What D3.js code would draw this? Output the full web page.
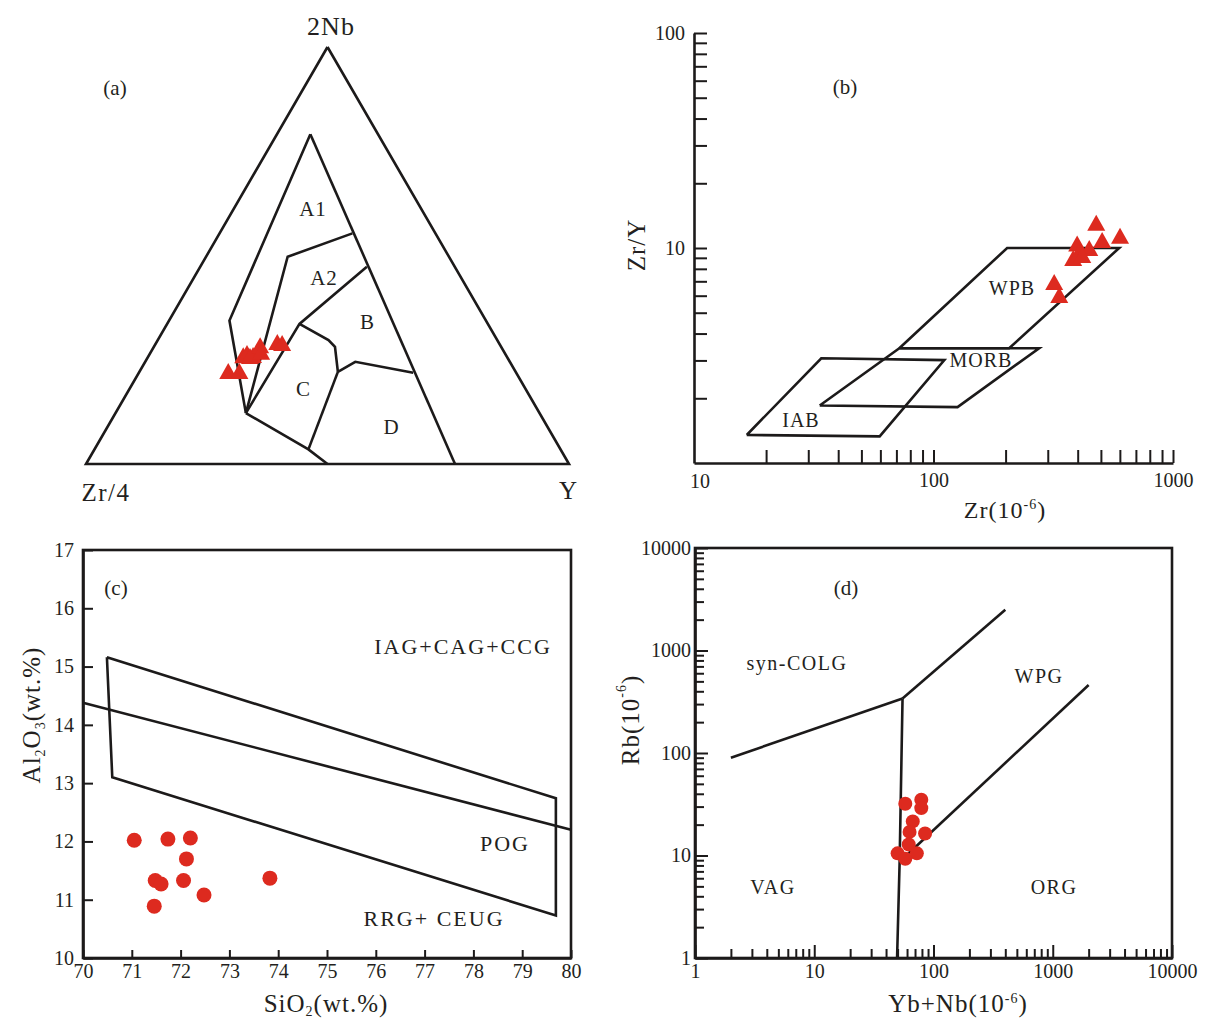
<!DOCTYPE html>
<html><head><meta charset="utf-8">
<script src="https://cdn.jsdelivr.net/npm/d3@7"></script>
<style>
body{margin:0;background:#fff}
svg text{font-family:"Liberation Serif","Times New Roman",serif;fill:#231f20}
</style>
</head><body>
<svg id="chart" width="1208" height="1021"></svg>
<script>
// ---------------- DATA ----------------
// (a) Ternary 2Nb - Zr/4 - Y ; vertices given as [2Nb, Zr/4, Y] fractions
const ternaryCorners = ["2Nb", "Zr/4", "Y"];
const fieldOuterLeft  = [[0.791,0.140,0.069],[0.344,0.531,0.125],[0.122,0.608,0.270]];
const fieldOuterRight = [[0.791,0.140,0.069],[0,0.236,0.764]];
const fieldA1A2       = [[0.553,0.172,0.275],[0.497,0.334,0.169],[0.122,0.608,0.270]];
const fieldA2B        = [[0.473,0.182,0.345],[0.336,0.390,0.274],[0.122,0.608,0.270]];
const fieldBC         = [[0.336,0.390,0.274],[0.297,0.349,0.353],[0.281,0.344,0.375],[0.221,0.368,0.411]];
const fieldBD         = [[0.221,0.368,0.411],[0.245,0.320,0.435],[0.219,0.213,0.568]];
const fieldCD         = [[0.221,0.368,0.411],[0.035,0.522,0.443]];
const fieldBase       = [[0.122,0.608,0.270],[0.035,0.522,0.443],[0,0.5,0.5]];
const samplesA_Nb = [0.223,0.223,0.261,0.266,0.261,0.259,0.285,0.269,0.293,0.290];
const samplesA_Zr = [0.594,0.571,0.544,0.533,0.523,0.531,0.497,0.503,0.458,0.449];
const samplesA_Y  = [0.183,0.206,0.195,0.200,0.215,0.210,0.218,0.228,0.250,0.261];

// (b) Zr/Y vs Zr
const fieldIAB  = [[16.6,1.35],[59.6,1.33],[111,3.01],[34,3.07]];
const fieldMORB = [[33.5,1.85],[126,1.82],[276,3.42],[72,3.42]];
const fieldWPB  = [[72,3.42],[207,3.42],[596,10],[203,10]];
const samplesB_Zr  = [478,601,506,398,447,383,405,418,319,335];
const samplesB_ZrY = [13.1,11.4,10.9,10.5,10.0,8.98,9.58,9.28,6.95,6.04];
const bXLabels = [10,100,1000];
const bYLabels = [10,100];

// (c) Al2O3 vs SiO2
const fieldPOG   = [[70.49,15.16],[70.6,13.10],[79.69,10.73],[79.69,12.74],[70.49,15.16]];
const lineIAGPOG = [[70,14.38],[80,12.2]];
const samplesC_SiO2  = [71.05,71.74,72.2,72.12,71.48,71.6,72.06,72.48,73.83,71.46];
const samplesC_Al2O3 = [12.02,12.04,12.06,11.7,11.33,11.27,11.33,11.08,11.37,10.89];
const cXTicks = [70,71,72,73,74,75,76,77,78,79,80];
const cYTicks = [10,11,12,13,14,15,16,17];

// (d) Rb vs Yb+Nb
const lineSynColVag = [[2,90],[55,340]];
const lineUpper     = [[55,340],[400,2500]];
const lineVagOrg    = [[55,340],[52,8.7],[49.5,1]];
const lineOrgWpg    = [[52,8.7],[2000,460]];
const samplesD_YbNb = [58,79,79,67,63,85,62,50,72.5,58];
const samplesD_Rb   = [32,35,29,21.5,17,16.4,12.8,10.5,10.5,9.3];
const dLabels = [1,10,100,1000,10000];

// ---------------- DRAW ----------------
const svg = d3.select("#chart");
const INK = "#1c1a1a", RED = "#dd2a1f", LW = 2.6;
const line = d3.line();
function polyline(g, pts){ g.append("path").attr("d", line(pts)).attr("fill","none")
  .attr("stroke",INK).attr("stroke-width",LW).attr("stroke-linejoin","miter"); }
function label(x,y,t,size,opts={}){
  const e = svg.append("text").attr("x",x).attr("y",y).attr("text-anchor",opts.anchor||"middle")
   .attr("dominant-baseline","central").attr("font-size",size).text(t);
  if(opts.ls) e.attr("letter-spacing",opts.ls);
  return e;
}
const triPath = "M0,-8L9,8L-9,8Z";

// ===== (a) =====
const tx = d3.scaleLinear().domain([0,1]).range([86,569]);
const ty = d3.scaleLinear().domain([0,1]).range([464,47]);
const proj = ([a,b,c]) => { const s=a+b+c; a/=s; c/=s; return [tx(c + a/2), ty(a)]; };
const gA = svg.append("g");
polyline(gA, [[1,0,0],[0,1,0],[0,0,1],[1,0,0]].map(proj));
[fieldOuterLeft, fieldOuterRight, fieldA1A2, fieldA2B, fieldBC, fieldBD, fieldCD, fieldBase]
  .forEach(f => polyline(gA, f.map(proj)));
gA.selectAll("path.s").data(d3.range(samplesA_Nb.length)).enter().append("path")
  .attr("class","s").attr("d",triPath).attr("fill",RED)
  .attr("transform", i => { const p = proj([samplesA_Nb[i],samplesA_Zr[i],samplesA_Y[i]]); return `translate(${p[0]},${p[1]})`; });
label(331,26,ternaryCorners[0],26,{ls:1});
label(106,492,ternaryCorners[1],25,{ls:1.5});
label(568,490,ternaryCorners[2],25);
label(115,88,"(a)",21);
label(313,209,"A1",21,{ls:1});
label(324,278,"A2",21,{ls:1});
label(367,322,"B",21);
label(303,389,"C",21);
label(391,427,"D",21);

// ===== (b) =====
const xb = d3.scaleLog().domain([10,1000]).range([694,1173]);
const yb = d3.scaleLog().domain([1,100]).range([463,33]);
const gB = svg.append("g");
const axYb = gB.append("g").attr("transform","translate(694,0)")
  .call(d3.axisLeft(yb).tickValues(yb.ticks().filter(v=>v>1)).tickSizeInner(-13).tickSizeOuter(0).tickPadding(9)
    .tickFormat(d => bYLabels.includes(d) ? String(d) : ""));
const axXb = gB.append("g").attr("transform","translate(0,463)")
  .call(d3.axisBottom(xb).tickValues(xb.ticks().filter(v=>v>10)).tickSizeInner(-13).tickSizeOuter(0).tickPadding(10)
    .tickFormat(d => bXLabels.includes(d) ? String(d) : ""));
axXb.append("text").attr("x",xb(10)+6).attr("y",11).attr("dy","0.71em").attr("text-anchor","middle").attr("fill","#231f20").text("10");
[fieldIAB, fieldMORB, fieldWPB].forEach(f => polyline(gB, f.concat([f[0]]).map(d=>[xb(d[0]),yb(d[1])])));
gB.selectAll("path.s").data(d3.range(samplesB_Zr.length)).enter().append("path")
  .attr("class","s").attr("d",triPath).attr("fill",RED)
  .attr("transform", i => `translate(${xb(samplesB_Zr[i])},${yb(samplesB_ZrY[i])})`);
label(845,87,"(b)",21);
label(1012,288,"WPB",20,{ls:1});
label(981,360,"MORB",20,{ls:1});
label(801,420,"IAB",20,{ls:1});
// titles
svg.append("text").attr("transform","translate(636,245) rotate(-90)").attr("text-anchor","middle")
  .attr("dominant-baseline","central").attr("font-size",25).attr("letter-spacing",1).text("Zr/Y");
{ const t = svg.append("text").attr("x",1005).attr("y",518).attr("text-anchor","middle").attr("font-size",24).attr("letter-spacing",1);
  t.append("tspan").text("Zr(10"); t.append("tspan").attr("dy",-9).attr("font-size",14).text("-6");
  t.append("tspan").attr("dy",9).text(")"); }

// ===== (c) =====
const xc = d3.scaleLinear().domain([70,80]).range([83,571]);
const yc = d3.scaleLinear().domain([10,17]).range([958,550]);
const gC = svg.append("g");
gC.append("g").attr("transform","translate(0,958)")
  .call(d3.axisBottom(xc).tickValues(cXTicks).tickSizeInner(-8).tickSizeOuter(0).tickPadding(6).tickFormat(d3.format("d")));
gC.append("g").attr("transform","translate(83,0)")
  .call(d3.axisLeft(yc).tickValues(cYTicks).tickSizeInner(-10).tickSizeOuter(0).tickPadding(9).tickFormat(d3.format("d")));
gC.append("rect").attr("x",xc(70)).attr("y",yc(17)).attr("width",xc(80)-xc(70)).attr("height",yc(10)-yc(17))
  .attr("fill","none").attr("stroke",INK).attr("stroke-width",LW);
polyline(gC, fieldPOG.map(d=>[xc(d[0]),yc(d[1])]));
polyline(gC, lineIAGPOG.map(d=>[xc(d[0]),yc(d[1])]));
gC.selectAll("circle").data(d3.range(samplesC_SiO2.length)).enter().append("circle")
  .attr("cx", i=>xc(samplesC_SiO2[i])).attr("cy", i=>yc(samplesC_Al2O3[i])).attr("r",7.5).attr("fill",RED);
label(116,588,"(c)",21);
label(463,646,"IAG+CAG+CCG",22,{ls:2});
label(505,843,"POG",22,{ls:2});
label(434,918,"RRG+ CEUG",22,{ls:2});
{ const t = svg.append("text").attr("transform","translate(40,715) rotate(-90)").attr("text-anchor","middle")
   .attr("font-size",25).attr("letter-spacing",1);
  t.append("tspan").text("Al"); t.append("tspan").attr("dy",5).attr("font-size",14).text("2");
  t.append("tspan").attr("dy",-5).text("O"); t.append("tspan").attr("dy",5).attr("font-size",14).text("3");
  t.append("tspan").attr("dy",-5).text("(wt.%)"); }
{ const t = svg.append("text").attr("x",326).attr("y",1012).attr("text-anchor","middle").attr("font-size",25).attr("letter-spacing",1);
  t.append("tspan").text("SiO"); t.append("tspan").attr("dy",4).attr("font-size",14).text("2");
  t.append("tspan").attr("dy",-4).text("(wt.%)"); }

// ===== (d) =====
const xd = d3.scaleLog().domain([1,10000]).range([695,1172]);
const yd = d3.scaleLog().domain([1,10000]).range([958,548]);
const gD = svg.append("g");
const fmtD = d => dLabels.includes(d) ? String(d) : "";
const axXd = gD.append("g").attr("transform","translate(0,958)")
  .call(d3.axisBottom(xd).tickValues(xd.ticks()).tickSizeInner(-9).tickSizeOuter(0).tickPadding(6).tickFormat(fmtD));
axXd.selectAll(".tick line").attr("y2", d => dLabels.includes(d) ? -13 : -9);
const axYd = gD.append("g").attr("transform","translate(695,0)")
  .call(d3.axisLeft(yd).tickValues(yd.ticks()).tickSizeInner(-9).tickSizeOuter(0).tickPadding(4).tickFormat(fmtD));
axYd.selectAll(".tick line").attr("x2", d => dLabels.includes(d) ? 13 : 9);
gD.append("rect").attr("x",xd(1)).attr("y",yd(10000)).attr("width",xd(10000)-xd(1)).attr("height",yd(1)-yd(10000))
  .attr("fill","none").attr("stroke",INK).attr("stroke-width",LW);
[lineSynColVag, lineUpper, lineVagOrg, lineOrgWpg].forEach(f => polyline(gD, f.map(d=>[xd(d[0]),yd(d[1])])));
gD.selectAll("circle").data(d3.range(samplesD_YbNb.length)).enter().append("circle")
  .attr("cx", i=>xd(samplesD_YbNb[i])).attr("cy", i=>yd(samplesD_Rb[i])).attr("r",7).attr("fill",RED);
label(846,588,"(d)",21);
label(797,663,"syn-COLG",20,{ls:1.5});
label(1039,676,"WPG",20,{ls:1.5});
label(773,887,"VAG",20,{ls:1.5});
label(1054,887,"ORG",20,{ls:1.5});
{ const t = svg.append("text").attr("transform","translate(630,720) rotate(-90)").attr("text-anchor","middle")
   .attr("dominant-baseline","central").attr("font-size",25).attr("letter-spacing",1);
  t.append("tspan").text("Rb(10"); t.append("tspan").attr("dy",-9).attr("font-size",14).text("-6");
  t.append("tspan").attr("dy",9).text(")"); }
{ const t = svg.append("text").attr("x",958).attr("y",1012).attr("text-anchor","middle").attr("font-size",25).attr("letter-spacing",1);
  t.append("tspan").text("Yb+Nb(10"); t.append("tspan").attr("dy",-9).attr("font-size",14).text("-6");
  t.append("tspan").attr("dy",9).text(")"); }

// axis styling
svg.selectAll(".domain").attr("stroke",INK).attr("stroke-width",LW);
svg.selectAll(".tick line").attr("stroke",INK).attr("stroke-width",2);
svg.selectAll(".tick text").attr("font-size",20).attr("font-family","Liberation Serif").attr("fill","#231f20");
svg.selectAll("g").filter(function(){return this.getAttribute("font-family");}).attr("font-family","Liberation Serif").attr("font-size",20);
</script>
</body></html>
